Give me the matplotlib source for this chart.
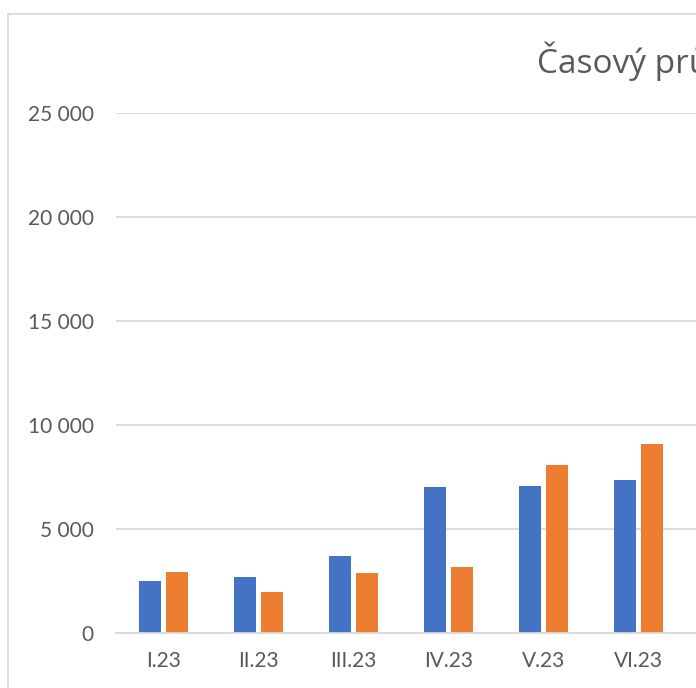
import matplotlib
matplotlib.use("Agg")
import matplotlib.pyplot as plt
from matplotlib.ticker import FuncFormatter, MultipleLocator
from matplotlib.lines import Line2D
import numpy as np

categories = ["I.23", "II.23", "III.23", "IV.23", "V.23", "VI.23"]
series_blue = [2510, 2690, 3690, 7010, 7050, 7340]
series_orange = [2930, 1960, 2870, 3160, 8060, 9080]
title_text = "Časový průběh"

W, H = 696, 688
fig = plt.figure(figsize=(W / 100, H / 100), dpi=100)
fig.patch.set_facecolor("white")

left_px, right_px = 116, 696
bottom_px, top_px = 633, 113
ax = fig.add_axes([left_px / W, (H - bottom_px) / H, (right_px - left_px) / W, (bottom_px - top_px) / H])

cat_px = 95.0
x = np.arange(len(categories))
bw = 21.5 / cat_px
off = 13.3 / cat_px
ax.bar(x - off, series_blue, width=bw, color="#4472C4", zorder=3)
ax.bar(x + off, series_orange, width=bw, color="#ED7D31", zorder=3)

ax.set_xlim(-0.5, -0.5 + (right_px - left_px) / cat_px)
ax.set_ylim(0, 25000)
ax.yaxis.set_major_locator(MultipleLocator(5000))
ax.yaxis.set_major_formatter(FuncFormatter(lambda v, p: f"{int(v):,}".replace(",", " ")))
ax.set_xticks(x)
ax.set_xticklabels(categories)

font = "Lato"
for lab in ax.get_xticklabels() + ax.get_yticklabels():
    lab.set_fontfamily(font)
    lab.set_fontsize(15)
    lab.set_color("#595959")

ax.tick_params(axis="both", length=0)
ax.tick_params(axis="y", pad=16)
ax.tick_params(axis="x", pad=13)
ax.grid(axis="y", color="#D9D9D9", linewidth=1.3, zorder=0)
ax.set_axisbelow(True)
for s in ["top", "right", "left"]:
    ax.spines[s].set_visible(False)
ax.spines["bottom"].set_color("#D9D9D9")
ax.spines["bottom"].set_linewidth(1.3)
ax.spines["bottom"].set_zorder(4)

# chart border (partially visible)
fig.add_artist(Line2D([7.5 / W, 7.5 / W], [0, 1 - 13.5 / H], transform=fig.transFigure, color="#D9D9D9", linewidth=1.3))
fig.add_artist(Line2D([7.5 / W, 1], [1 - 13.5 / H, 1 - 13.5 / H], transform=fig.transFigure, color="#D9D9D9", linewidth=1.3))

fig.text(537 / W, 1 - 73 / H, title_text, fontfamily="Open Sans", fontsize=24, color="#595959", ha="left", va="baseline")

fig.savefig("out.png", dpi=100)
